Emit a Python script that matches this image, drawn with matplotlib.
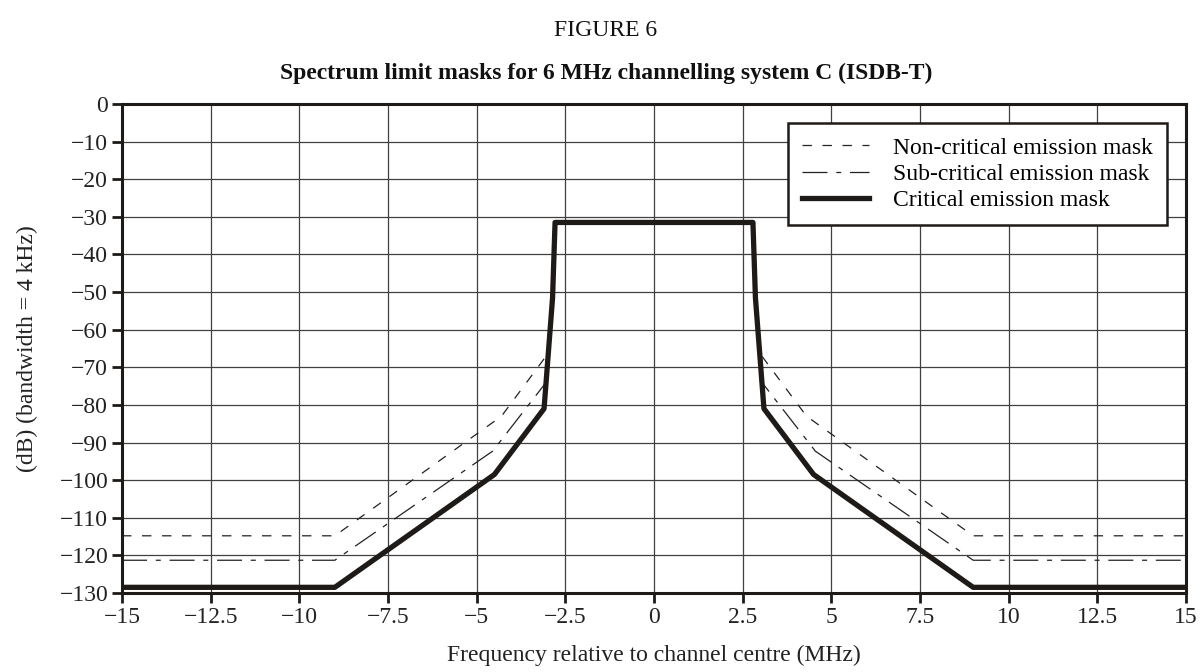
import matplotlib
matplotlib.use('Agg')
import matplotlib.pyplot as plt

plt.rcParams['font.family'] = ['Liberation Serif', 'DejaVu Serif']
plt.rcParams['axes.unicode_minus'] = True

# frequency offsets (MHz) and mask levels (dB in 4 kHz)
freq_non = [-15, -9, -4.3, -3.0, -2.86, -2.79, 2.79, 2.86, 3.0, 4.3, 9, 15]
non_critical = [-114.8, -114.8, -83.0, -66.5, -51.5, -31.5, -31.5, -51.5, -66.5, -83.0, -114.8, -114.8]

freq_sub = [-15, -9, -4.55, -3.0, -2.86, -2.79, 2.79, 2.86, 3.0, 4.55, 9, 15]
sub_critical = [-121.3, -121.3, -92.3, -73.5, -51.5, -31.5, -31.5, -51.5, -73.5, -92.3, -121.3, -121.3]

freq_crit = [-15, -9, -4.5, -3.1, -2.86, -2.79, 2.79, 2.86, 3.1, 4.5, 9, 15]
critical = [-128.5, -128.5, -98.5, -81.0, -51.5, -31.5, -31.5, -51.5, -81.0, -98.5, -128.5, -128.5]

xticks = [-15, -12.5, -10, -7.5, -5, -2.5, 0, 2.5, 5, 7.5, 10, 12.5, 15]
xticklabels = ['\u221215', '\u221212.5', '\u221210', '\u22127.5', '\u22125', '\u22122.5',
               '0', '2.5', '5', '7.5', '10', '12.5', '15']
yticks = list(range(0, -131, -10))

FS = 17
ink = '#1e1a17'

fig = plt.figure(figsize=(12, 6.72), dpi=100)
ax = fig.add_axes([0.1017, 0.1176, 0.8866, 0.7277])

ax.plot(freq_non, non_critical, color='#222222', lw=0.9, ls=(0, (7.5, 8.5)),
        label='Non-critical emission mask')
ax.plot(freq_sub, sub_critical, color='#222222', lw=0.9, ls=(0, (20, 7, 4, 7)),
        label='Sub-critical emission mask')
ax.plot(freq_crit, critical, color=ink, lw=3.8,
        label='Critical emission mask', zorder=5)

ax.set_xlim(-15, 15)
ax.set_ylim(-130, 0)
ax.set_xticks(xticks)
ax.set_xticklabels(xticklabels)
ax.set_yticks(yticks)
ax.set_yticklabels(['0'] + ['\u2212%d' % -v for v in yticks[1:]])
ax.grid(True, color='#404040', lw=0.9)
ax.set_axisbelow(True)
for s in ax.spines.values():
    s.set_linewidth(2.2)
    s.set_color(ink)
ax.tick_params(direction='out', length=7, width=2, labelsize=FS, pad=3,
               color=ink, labelcolor='#222222')

ax.set_ylabel('(dB) (bandwidth = 4 kHz)', fontsize=FS, color='#222222')
ax.yaxis.set_label_coords(-0.079, 0.5)
fig.text(0.545, 0.024, 'Frequency relative to channel centre (MHz)', ha='center',
         va='center', fontsize=FS, color='#222222')

fig.text(0.505, 0.954, 'FIGURE 6', ha='center', va='center', fontsize=FS, color='#111111')
fig.text(0.505, 0.891, 'Spectrum limit masks for 6 MHz channelling system C (ISDB-T)',
         ha='center', va='center', fontsize=FS, fontweight='bold', color='#111111')

leg = ax.legend(loc='upper right', bbox_to_anchor=(0.982, 0.961), fontsize=FS,
                frameon=True, fancybox=False, framealpha=1, edgecolor=ink,
                handlelength=2.85, handletextpad=1.0, borderpad=0.6,
                labelspacing=0.2, borderaxespad=0)
leg.get_frame().set_linewidth(1.8)

fig.savefig('out.png', dpi=100)
